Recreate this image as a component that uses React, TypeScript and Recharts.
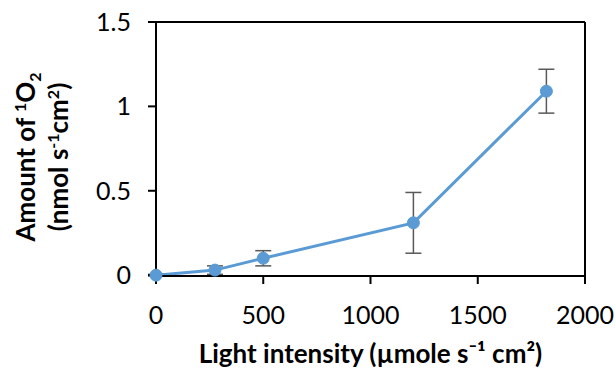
import { LineChart, Line, XAxis, YAxis, ErrorBar, ReferenceLine } from "recharts";

const lightIntensity = [0, 275, 500, 1200, 1820];
const singletOxygen = [0, 0.03, 0.1, 0.31, 1.09];
const errors = [0.005, 0.025, 0.045, 0.18, 0.13];
const xTicks = [0, 500, 1000, 1500, 2000];
const yTicks = [0, 0.5, 1, 1.5];

const data = lightIntensity.map((x, i) => ({
  x,
  y: singletOxygen[i],
  err: errors[i],
}));

const font = "Lato, 'Liberation Sans', sans-serif";

// two-line rotated y title with super/subscripts
const YTitle = () => (
  <g fontFamily={font} fontWeight="bold" fontSize={26} fill="#000">
    <text textAnchor="middle" transform="translate(35,157) rotate(-90)">
      Amount of <tspan dy={-9} fontSize={16}>1</tspan>
      <tspan dy={9}>O</tspan>
      <tspan dy={6} fontSize={16}>2</tspan>
    </text>
    <text textAnchor="middle" transform="translate(68,157) rotate(-90)">
      (nmol s<tspan dy={-9} fontSize={16}>-1</tspan>
      <tspan dy={9}>cm</tspan>
      <tspan dy={-9} fontSize={16}>2</tspan>
      <tspan dy={9}>)</tspan>
    </text>
  </g>
);

export default function App() {
  return (
    <div style={{ position: "absolute", left: 0, top: 0, background: "#fff" }}>
      <LineChart
        width={615}
        height={368}
        data={data}
        margin={{ top: 22, right: 30, bottom: 0, left: 0 }}
      >
        <XAxis
          dataKey="x"
          type="number"
          domain={[0, 2000]}
          ticks={xTicks}
          height={92}
          stroke="#000"
          strokeWidth={2}
          tickSize={8}
          tickMargin={22}
          tick={{ fill: "#000", fontSize: 25, fontFamily: font }}
          label={{
            value: "Light intensity (µmole s⁻¹ cm²)",
            position: "insideBottom",
            offset: 5,
            fill: "#000",
            fontSize: 26,
            fontWeight: "bold",
            fontFamily: font,
          }}
        />
        <YAxis
          type="number"
          domain={[0, 1.5]}
          ticks={yTicks}
          width={156}
          stroke="#000"
          strokeWidth={2}
          tickSize={8}
          tickMargin={17}
          tick={{ fill: "#000", fontSize: 25, fontFamily: font }}
          label={{ content: () => <YTitle /> }}
        />
        <ReferenceLine y={1.5} stroke="#000" strokeWidth={2} />
        <ReferenceLine x={2000} stroke="#000" strokeWidth={2} />
        <Line
          dataKey="y"
          stroke="#5B9BD5"
          strokeWidth={3}
          dot={{ r: 6, fill: "#5B9BD5", stroke: "#5B9BD5", strokeWidth: 1 }}
          isAnimationActive={false}
        >
          <ErrorBar
            dataKey="err"
            direction="y"
            width={8}
            stroke="#595959"
            strokeWidth={1.5}
          />
        </Line>
      </LineChart>
    </div>
  );
}
